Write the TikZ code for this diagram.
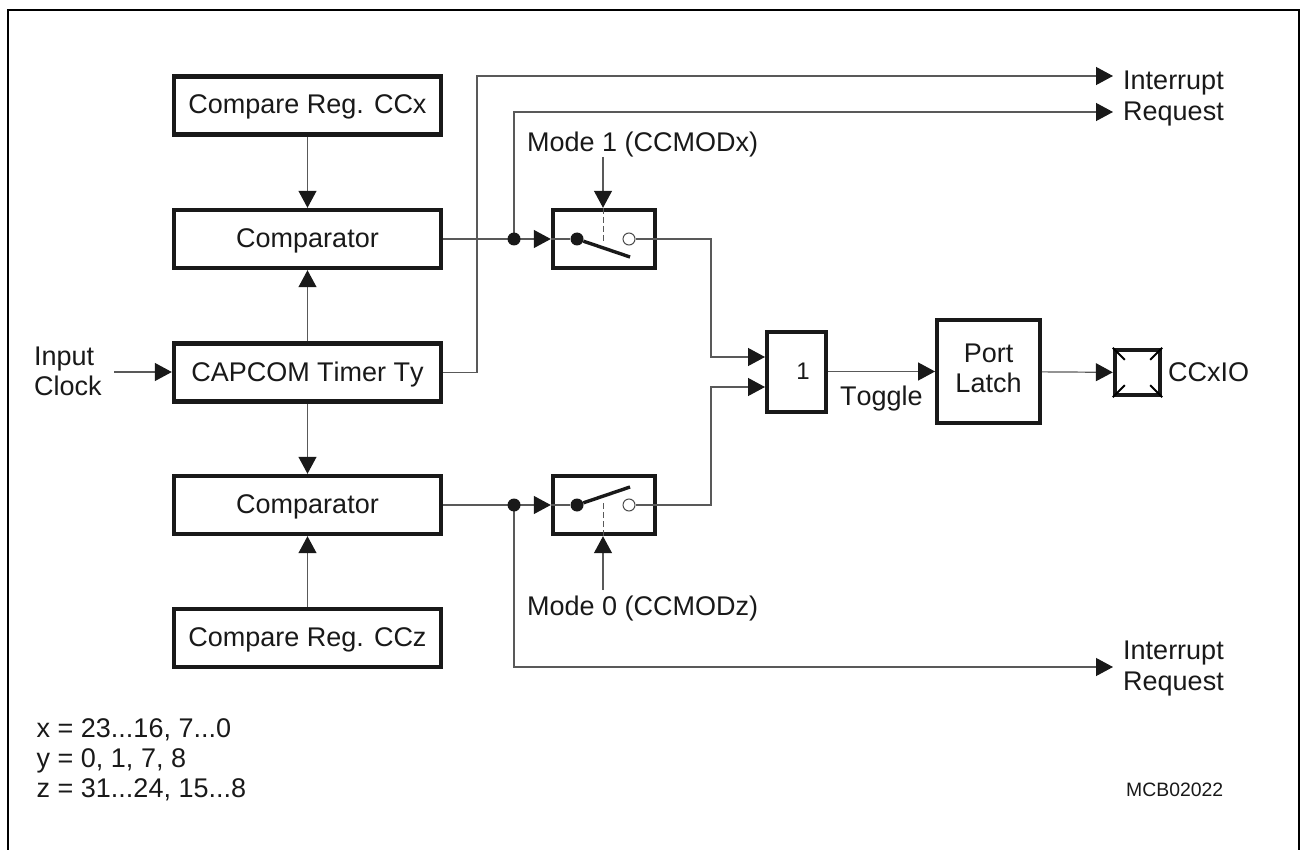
\documentclass[tikz,border=0pt]{standalone}
\usepackage{fontspec}
\setmainfont[Kerning=Off]{Liberation Sans}
\usetikzlibrary{arrows.meta}
\begin{document}
\begin{tikzpicture}[
  x=1pt,y=-1pt,
  font=\fontsize{27}{30}\selectfont,
  block/.style={draw=black!90,line width=4.4pt,fill=white,inner sep=0pt,text=black!90},
  wide/.style={block,minimum width=267pt,minimum height=58pt,text height=17pt,text depth=0pt},
  swbox/.style={block,minimum width=102pt,minimum height=58pt},
  lnk/.style={draw=black!65,line width=1.2pt},
  arr/.style={lnk,-{Triangle[length=17pt,width=18pt,color=black!90]}},
  dot/.style={circle,fill=black!90,inner sep=0pt,minimum size=13pt},
  opendot/.style={circle,draw=black!70,line width=1pt,fill=white,inner sep=0pt,minimum size=12pt},
  lever/.style={draw=black!90,line width=3.4pt},
  lbl/.style={inner sep=0pt,text=black!90,align=left},
]
\useasboundingbox (0,0) rectangle (1300,850);
\draw[line width=2pt] (8,850) -- (8,10) -- (1299,10) -- (1299,850);

% left column
\node[wide] (rega) at (307.5,105.5) {Compare Reg. CCx};
\node[wide] (cmpa) at (307.5,239) {Comparator};
\node[wide] (timer) at (307.5,372.5) {CAPCOM Timer Ty};
\node[wide] (cmpb) at (307.5,505) {Comparator};
\node[wide] (regb) at (307.5,638) {Compare Reg. CCz};
\node[lbl,anchor=west] (clock) at (34,371.5) {Input\\Clock};
\coordinate (clkin) at (114,372);

% switches
\node[swbox] (swa) at (604,239) {};
\node[swbox] (swb) at (604,505) {};
\node[opendot] (swaopen) at (629,239) {};
\node[opendot] (swbopen) at (629,505) {};
\coordinate (swatip) at (630,257);
\coordinate (swbtip) at (630,487);
\coordinate (swadash) at (603,243);
\coordinate (swbdash) at (603,501);

% output side
\node[block,minimum width=59pt,minimum height=80pt,font=\fontsize{24}{26}\selectfont] (orgate) at (796.5,372) {\hspace*{13pt}\raisebox{1.5pt}{1}};
\node[block,minimum width=102.5pt,minimum height=102.5pt] (latch) at (988.5,371.5) {\raisebox{-6.5pt}{\begin{tabular}{@{}c@{}}Port\\Latch\end{tabular}}};
\node[block,minimum width=45pt,minimum height=45pt] (pad) at (1137.5,372.5) {};
\node[lbl,anchor=base west] (ccxio) at (1168,381) {CCxIO};
\node[lbl,anchor=base west] (toggle) at (840,405) {Toggle};

% labels
\node[lbl,anchor=base west] (inta) at (1123,90) {Interrupt};
\node[lbl,anchor=base west] (reqa) at (1123,121) {Request};
\node[lbl,anchor=base west] (intb) at (1123,659) {Interrupt};
\node[lbl,anchor=base west] (reqb) at (1123,690) {Request};
\node[lbl,anchor=base west] (modea) at (527,152) {Mode 1 (CCMODx)};
\node[lbl,anchor=base west] (modeb) at (527,615) {Mode 0 (CCMODz)};
\node[lbl,anchor=north west] (legend) at (36.5,718) {x = 23...16, 7...0\\y = 0, 1, 7, 8\\z = 31...24, 15...8};
\node[lbl,anchor=base west,font=\fontsize{19.4}{22}\selectfont] (code) at (1126,796) {MCB02022};

% free ends
\coordinate (topa) at (477,76);
\coordinate (enda) at (1113,76);
\coordinate (topb) at (514,112);
\coordinate (endb) at (1113,112);
\coordinate (botb) at (514,667);
\coordinate (endc) at (1113,667);
\coordinate (mida) at (711,239);
\coordinate (midb) at (711,505);
\coordinate (ora) at (765,357);
\coordinate (orb) at (765,387);
\coordinate (modeain) at (603,157);
\coordinate (modebin) at (603,590);
\coordinate (juna) at (514,239);
\coordinate (junb) at (514,505);

% connectors
\draw[arr] (rega) -- (cmpa);
\draw[arr] (timer) -- (cmpa);
\draw[arr] (timer) -- (cmpb);
\draw[arr] (regb) -- (cmpb);
\draw[arr] (clkin) -- (clkin -| timer.west);
\draw[arr] (cmpa) -- (swa);
\draw[arr] (cmpb) -- (swb);
\draw[arr] (timer) -| (topa) -- (enda);
\draw[arr] (juna) -- (topb) -- (endb);
\draw[arr] (junb) -- (botb) -- (endc);
\draw[arr] (modeain) -- (modeain |- swa.north);
\draw[arr] (modebin) -- (modebin |- swb.south);
\draw[arr] (swaopen) -- (mida) -- (mida |- ora) -- (ora);
\draw[arr] (swbopen) -- (midb) -- (midb |- orb) -- (orb);
\draw[arr] (orgate.east |- latch) -- (latch);
\draw[arr] (latch) -- (pad);

% dots go over the lines
\node[dot] (swadot) at (577,239) {};
\node[dot] (swbdot) at (577,505) {};
\node[dot] (cuta) at (juna) {};
\node[dot] (cutb) at (junb) {};

% switch inside
\draw[lnk] (swa.west) -- (swadot);
\draw[lnk] (swb.west) -- (swbdot);
\draw[lnk,dash pattern=on 6pt off 3pt,line width=1pt] (swa.north -| swadash) -- (swadash);
\draw[lnk,dash pattern=on 6pt off 3pt,line width=1pt] (swb.south -| swbdash) -- (swbdash);
\draw[lever] (swadot) -- (swatip);
\draw[lever] (swbdot) -- (swbtip);

% pad corners
\draw[line width=2pt] (pad.north west) -- ++(12,12);
\draw[line width=2pt] (pad.north east) -- ++(-12,12);
\draw[line width=2pt] (pad.south west) -- ++(12,-12);
\draw[line width=2pt] (pad.south east) -- ++(-12,-12);
\end{tikzpicture}
\end{document}
